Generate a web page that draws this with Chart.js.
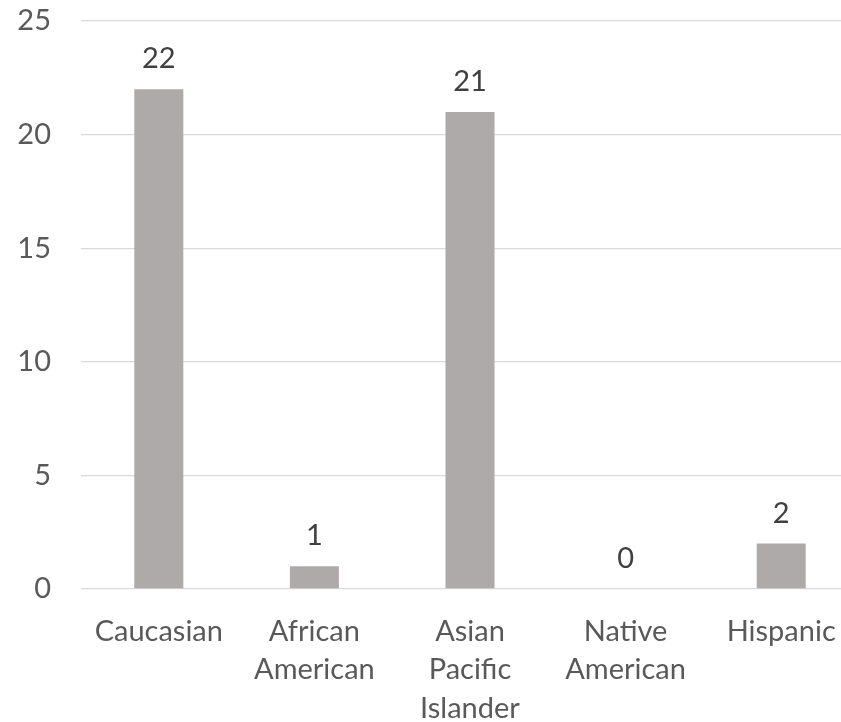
<!DOCTYPE html>
<html>
<head>
<meta charset="utf-8">
<script src="https://cdn.jsdelivr.net/npm/chart.js@4/dist/chart.umd.min.js"></script>
<style>
    html, body { margin: 0; padding: 0; background: #fff; overflow: hidden; }
    .chartBox { width: 859px; height: 722px; }
</style>
</head>
<body>
<div class="chartBox">
    <canvas id="ethnicity" width="859" height="722"></canvas>
</div>
<script>
const categories = [
    ['Caucasian'],
    ['African', 'American'],
    ['Asian', 'Pacific', 'Islander'],
    ['Native', 'American'],
    ['Hispanic']
]
const counts = [22, 1, 21, 0, 2]
const yTicks = [0, 5, 10, 15, 20, 25]

const FONT = 'Lato, "Open Sans", sans-serif'

// draws the value above each bar, like excel data labels
const valueLabels = {
    id: 'valueLabels',
    afterDatasetsDraw(chart) {
        const ctx = chart.ctx
        const meta = chart.getDatasetMeta(0)
        ctx.save()
        ctx.font = '29px ' + FONT
        ctx.fillStyle = '#404040'
        ctx.textAlign = 'center'
        ctx.textBaseline = 'alphabetic'
        meta.data.forEach((bar, i) => {
            ctx.fillText(String(counts[i]), bar.x, bar.y - 21)
        })
        ctx.restore()
    }
}

const ctx = document.getElementById('ethnicity').getContext('2d')
new Chart(ctx, {
    type: 'bar',
    data: {
        labels: categories,
        datasets: [{
            label: 'Count',
            data: counts,
            backgroundColor: '#aeaaaa',
            borderWidth: 0,
            categoryPercentage: 1,
            barPercentage: 0.315
        }]
    },
    options: {
        responsive: false,
        animation: false,
        layout: { padding: { top: 21, left: 0, right: 0, bottom: 0 } },
        plugins: {
            legend: { display: false },
            tooltip: { enabled: false }
        },
        scales: {
            x: {
                grid: { display: false, drawTicks: false },
                border: { display: false },
                ticks: {
                    color: '#595959',
                    padding: 23,
                    maxRotation: 0,
                    autoSkip: false,
                    font: { family: FONT, size: 29, lineHeight: 1.335 }
                },
                afterFit(scale) {
                    scale.height = 133
                    scale.paddingTop = 0
                    scale.paddingBottom = 0
                }
            },
            y: {
                min: 0,
                max: 25,
                afterBuildTicks(scale) { scale.ticks = yTicks.map(v => ({ value: v })) },
                grid: { color: '#d9d9d9', lineWidth: 1.3, drawTicks: false },
                border: { display: false },
                ticks: {
                    color: '#595959',
                    padding: 30,
                    font: { family: FONT, size: 29 }
                },
                afterFit(scale) {
                    scale.width = 81
                    scale.paddingTop = 0
                    scale.paddingBottom = 0
                }
            }
        }
    },
    plugins: [valueLabels]
})
</script>
</body>
</html>
